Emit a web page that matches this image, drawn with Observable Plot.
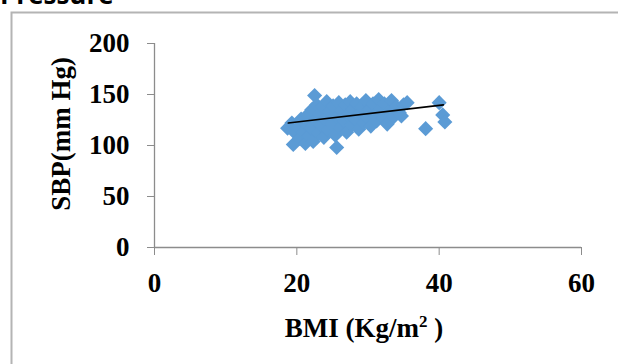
<!DOCTYPE html>
<html>
<head>
<meta charset="utf-8">
<script src="https://cdn.jsdelivr.net/npm/d3@7"></script>
<script src="https://cdn.jsdelivr.net/npm/@observablehq/plot@0.6"></script>
<style>
  html, body { margin: 0; padding: 0; background: #fff; }
  #chart svg { display: block; }
</style>
</head>
<body>
<div id="chart"></div>
<script>
// ---- data ----
const bmi = [18.7, 19.3, 19.5, 19.8, 20.2, 20.4, 20.6, 20.9, 21.2, 21.3, 21.5, 21.7, 22.0, 22.1, 22.3, 22.5, 22.6, 22.8, 23.0, 23.2,
             23.4, 23.6, 23.8, 24.0, 24.2, 24.4, 24.6, 24.9, 25.1, 25.4, 25.6, 25.7, 25.9, 26.1, 26.3, 26.6, 26.8, 27.0, 27.2, 27.5,
             27.7, 27.9, 28.2, 28.4, 28.7, 28.9, 29.2, 29.4, 29.7, 29.9, 30.2, 30.4, 30.7, 31.0, 31.2, 31.5, 31.8, 32.1, 32.3, 32.7,
             33.0, 33.3, 33.6, 34.0, 34.4, 34.7, 35.0, 35.5, 38.1, 40.0, 40.5, 40.8];
const sbp = [117, 122, 101, 112, 118, 107, 126, 113, 102, 121, 130, 109, 117, 135, 104, 149, 125, 140, 112, 131,
             120, 138, 108, 126, 143, 115, 133, 121, 139, 110, 98, 128, 142, 117, 134, 124, 140, 113, 130, 143,
             120, 136, 126, 141, 116, 132, 138, 122, 144, 128, 135, 119, 141, 130, 124, 145, 136, 127, 141, 121,
             133, 144, 128, 138, 132, 129, 140, 142, 116.5, 142, 130, 123];
const trendBmi = [18.8, 40.6];
const trendSbp = [122, 139.8];
const xTicks = [0, 20, 40, 60];
const yTicks = [0, 50, 100, 150, 200];
const titleText = "Pressure";
const xLabel = "BMI (Kg/m";
const xLabelSup = "2";
const xLabelEnd = " )";
const yLabel = "SBP(mm Hg)";

const points = bmi.map((b, i) => ({bmi: b, sbp: sbp[i]}));
const trend = trendBmi.map((b, i) => ({bmi: b, sbp: trendSbp[i]}));

const W = 618, H = 364;
const axisGray = "#8c8c8c";
const serif = "'Liberation Serif', 'Times New Roman', serif";

const chart = Plot.plot({
  width: W,
  height: H,
  marginLeft: 154,
  marginRight: 37,
  marginTop: 43,
  marginBottom: 117,
  style: {fontFamily: serif, fontSize: "27px", fontWeight: "bold", color: "#000", background: "#fff", overflow: "hidden"},
  x: {domain: [0, 60], label: null},
  y: {domain: [0, 200], label: null},
  marks: [
    Plot.axisX({ticks: xTicks, tickSize: 8, tickPadding: 17, stroke: axisGray, fill: "#000", fontSize: 27, fontWeight: "bold", label: null}),
    Plot.axisY({ticks: yTicks, tickSize: 7, tickPadding: 18, stroke: axisGray, fill: "#000", fontSize: 27, fontWeight: "bold", label: null}),
    Plot.ruleY([0], {stroke: axisGray, strokeWidth: 1.3}),
    Plot.ruleX([0], {stroke: axisGray, strokeWidth: 1.3}),
    Plot.dot(points, {x: "bmi", y: "sbp", symbol: "diamond2", r: 6.8, fill: "#5B9BD5", stroke: "none"}),
    Plot.line(trend, {x: "bmi", y: "sbp", stroke: "#000", strokeWidth: 1.6})
  ]
});

const svg = d3.select(chart);

// outer chart-area border (continues off the picture to the right and bottom)
svg.insert("path", ":first-child")
  .attr("d", `M11.5,${H + 5} V12.5 H${W + 5}`)
  .attr("fill", "none")
  .attr("stroke", "#b4b4b4")
  .attr("stroke-width", 2);

// title, cut by the top edge as in the reference
svg.append("text")
  .attr("x", 0)
  .attr("y", 4)
  .attr("text-anchor", "start")
  .attr("font-family", "'Open Sans', 'Noto Sans', sans-serif")
  .attr("font-weight", "bold")
  .attr("font-size", 26)
  .attr("fill", "#000")
  .text(titleText);

// x axis title with superscript
const xt = svg.append("text")
  .attr("x", 364)
  .attr("y", 337)
  .attr("text-anchor", "middle")
  .attr("font-family", serif)
  .attr("font-weight", "bold")
  .attr("font-size", 27)
  .attr("fill", "#000");
xt.append("tspan").text(xLabel);
xt.append("tspan").attr("dy", -10).attr("font-size", 17).text(xLabelSup);
xt.append("tspan").attr("dy", 10).text(xLabelEnd);

// y axis title
svg.append("text")
  .attr("transform", "translate(70,134) rotate(-90)")
  .attr("text-anchor", "middle")
  .attr("font-family", serif)
  .attr("font-weight", "bold")
  .attr("font-size", 27)
  .attr("fill", "#000")
  .text(yLabel);

document.getElementById("chart").appendChild(chart);
</script>
</body>
</html>
